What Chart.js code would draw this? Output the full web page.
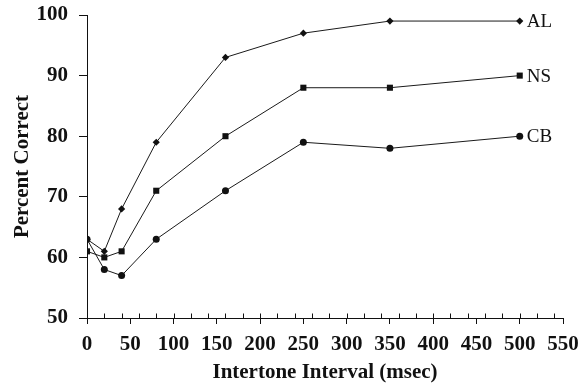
<!DOCTYPE html>
<html>
<head>
<meta charset="utf-8">
<script src="https://cdn.jsdelivr.net/npm/chart.js@4/dist/chart.umd.min.js"></script>
<style>
  html, body { margin: 0; padding: 0; background: #fff; }
  #wrap { width: 580px; height: 389px; }
</style>
</head>
<body>
<div id="wrap"><canvas id="c" width="580" height="389"></canvas></div>
<script>
// Intertone interval (msec) at which each condition was tested
const intervals = [0, 20, 40, 80, 160, 250, 350, 500];

// Percent correct per group
const seriesNames = ['AL', 'NS', 'CB'];
const alValues = [63, 61, 68, 79, 93, 97, 99, 99];
const nsValues = [61, 60, 61, 71, 80, 88, 88, 90];
const cbValues = [63, 58, 57, 63, 71, 79, 78, 80];

// Axis ranges and steps
const xMin = 0, xMax = 550, xMajorStep = 50, xMinorStep = 20;
const yMin = 50, yMax = 100, yStep = 10;

const SERIF = '"Liberation Serif", "Times New Roman", Times, serif';
const INK = '#111';

function toPoints(values) {
  return intervals.map((x, i) => ({ x: x, y: values[i] }));
}

const styles = [
  { pointStyle: 'rectRot', pointRadius: 3.6 },
  { pointStyle: 'rect', pointRadius: 4.3 },
  { pointStyle: 'circle', pointRadius: 3.5 }
];
const allValues = [alValues, nsValues, cbValues];

const datasets = seriesNames.map((name, i) => ({
  label: name,
  data: toPoints(allValues[i]),
  borderColor: '#1a1a1a',
  backgroundColor: '#111',
  pointBackgroundColor: '#111',
  pointBorderColor: '#111',
  borderWidth: 1,
  pointBorderWidth: 0,
  pointStyle: styles[i].pointStyle,
  pointRadius: styles[i].pointRadius,
  pointHoverRadius: styles[i].pointRadius,
  tension: 0,
  fill: false
}));

// Small upward tick marks every 20 msec along the x axis
const minorTicks = {
  id: 'minorTicks',
  afterDraw(chart) {
    const xs = chart.scales.x;
    const ys = chart.scales.y;
    const ctx = chart.ctx;
    const base = Math.round(ys.getPixelForValue(yMin)) + 0.5;
    ctx.save();
    ctx.strokeStyle = INK;
    ctx.lineWidth = 1;
    ctx.beginPath();
    for (let v = xMinorStep; v <= xMax; v += xMinorStep) {
      const px = Math.round(xs.getPixelForValue(v)) + 0.5;
      ctx.moveTo(px, base);
      ctx.lineTo(px, base - 5);
    }
    ctx.stroke();
    ctx.restore();
  }
};

// Series names written just right of each line's last point
const endLabels = {
  id: 'endLabels',
  afterDatasetsDraw(chart) {
    const xs = chart.scales.x;
    const ys = chart.scales.y;
    const ctx = chart.ctx;
    ctx.save();
    ctx.fillStyle = INK;
    ctx.font = '19px ' + SERIF;
    ctx.textAlign = 'left';
    ctx.textBaseline = 'middle';
    chart.data.datasets.forEach(ds => {
      const last = ds.data[ds.data.length - 1];
      ctx.fillText(ds.label, xs.getPixelForValue(last.x) + 7, ys.getPixelForValue(last.y) + 1);
    });
    ctx.restore();
  }
};

// Fixed axis boxes so the plot area sits at a set place
function fixX(scale) {
  scale.height = 71;
  scale.paddingLeft = 0;
  scale.paddingRight = 0;
}
function fixY(scale) {
  scale.width = 87;
  scale.paddingTop = 0;
  scale.paddingBottom = 0;
}

new Chart(document.getElementById('c'), {
  type: 'line',
  data: { datasets: datasets },
  plugins: [minorTicks, endLabels],
  options: {
    responsive: false,
    animation: false,
    devicePixelRatio: 1,
    layout: { padding: { top: 15, right: 17, left: 0, bottom: 0 } },
    plugins: {
      legend: { display: false },
      tooltip: { enabled: false }
    },
    scales: {
      x: {
        type: 'linear',
        min: xMin,
        max: xMax,
        afterFit: fixX,
        ticks: {
          stepSize: xMajorStep,
          color: INK,
          padding: 8,
          maxRotation: 0,
          autoSkip: false,
          font: { family: SERIF, size: 21, weight: 'bold' }
        },
        grid: {
          display: true,
          drawOnChartArea: false,
          drawTicks: true,
          tickLength: 6,
          color: INK,
          lineWidth: 1
        },
        border: { display: true, color: INK, width: 1 },
        title: {
          display: true,
          text: 'Intertone Interval (msec)',
          color: INK,
          padding: { top: 0, bottom: 4 },
          font: { family: SERIF, size: 21, weight: 'bold' }
        }
      },
      y: {
        type: 'linear',
        min: yMin,
        max: yMax,
        afterFit: fixY,
        ticks: {
          stepSize: yStep,
          color: INK,
          padding: 11,
          font: { family: SERIF, size: 21, weight: 'bold' }
        },
        grid: {
          display: true,
          drawOnChartArea: false,
          drawTicks: true,
          tickLength: 8,
          color: INK,
          lineWidth: 1
        },
        border: { display: true, color: INK, width: 1 },
        title: {
          display: true,
          text: 'Percent Correct',
          color: INK,
          padding: { top: 10, bottom: 0 },
          font: { family: SERIF, size: 21, weight: 'bold' }
        }
      }
    }
  }
});
</script>
</body>
</html>
